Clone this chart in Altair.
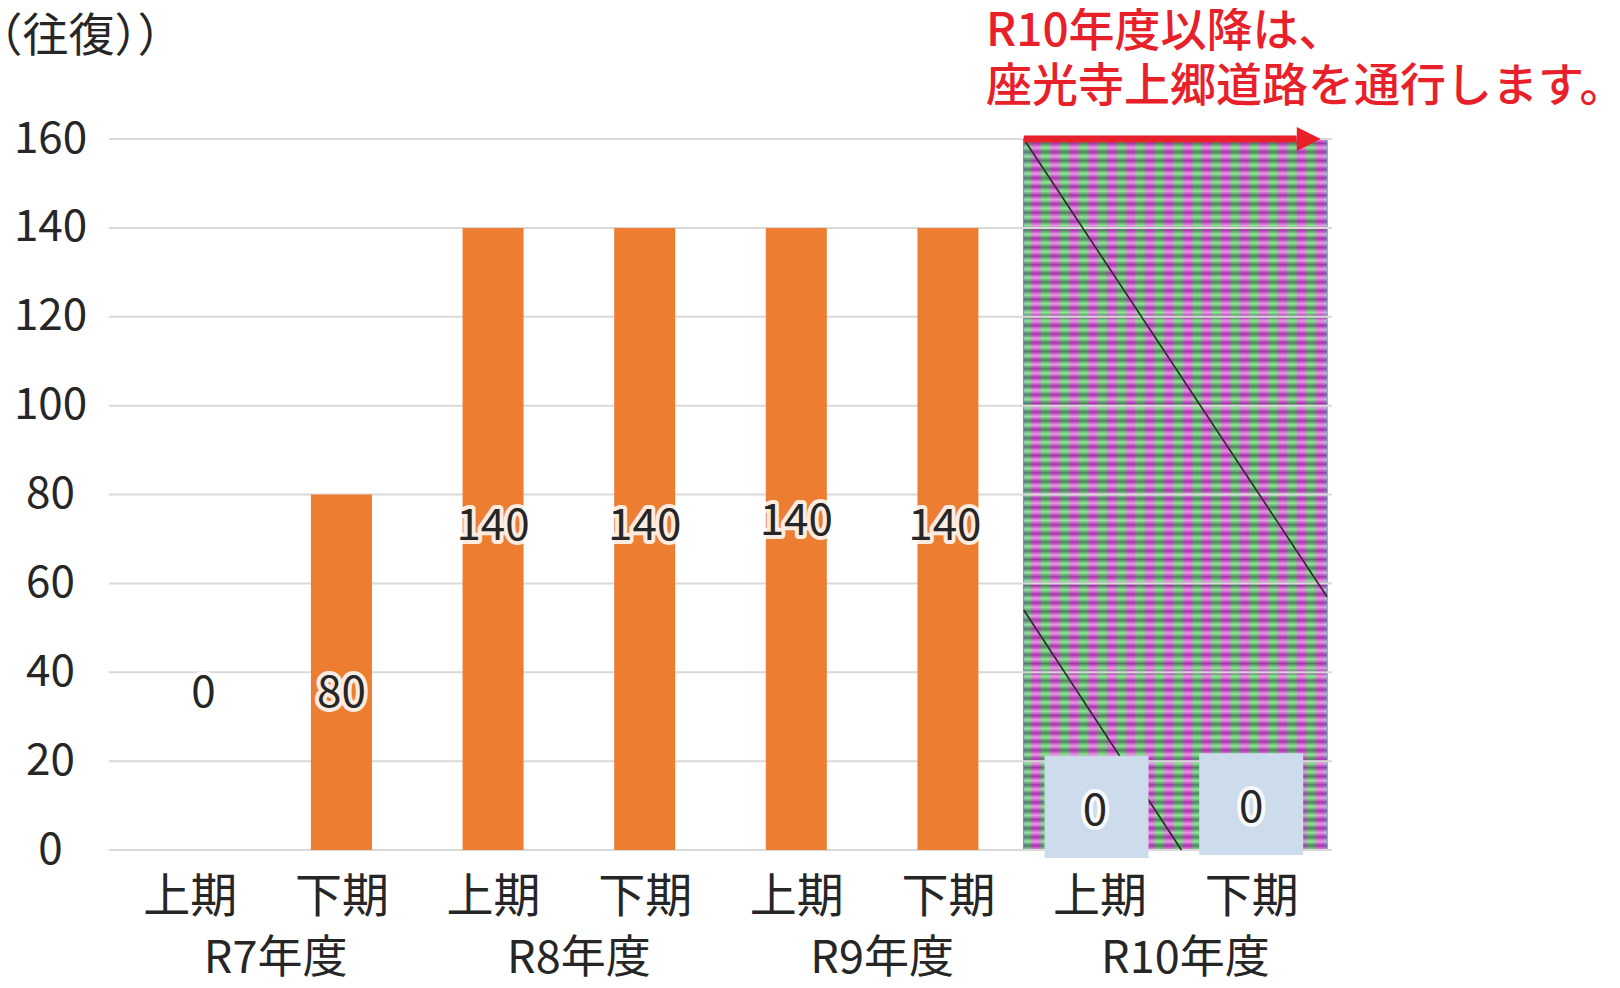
import altair as alt
import pandas as pd

# ---------------- data ----------------
years = ["R7年度", "R7年度", "R8年度", "R8年度", "R9年度", "R9年度", "R10年度", "R10年度"]
periods = ["上期", "下期", "上期", "下期", "上期", "下期", "上期", "下期"]
values = [0, 80, 140, 140, 140, 140, 0, 0]
label_y = [35, 35, 72.7, 72.7, 73.8, 72.7, 8.5, 9.2]       # where the value labels sit (y units)
label_shift = [0.09, 0, 0, 0, 0, -0.02, -0.03, 0]           # label offset from bar centre (category units)
y_ticks = [0, 20, 40, 60, 80, 100, 120, 140, 160]
y_title = "（往復））"
note_lines = ["R10年度以降は、", "座光寺上郷道路を通行します。"]
after_year = "R10年度"
box_top = [21.2, 21.8]          # light-blue label boxes of R10 (y units)
box_bottom = [-1.8, -1.1]
box_shift = [-0.02, 0.0]
diag_x = [6.0, 6.0]             # diagonal seams in the hatched block (x in category units)
diag_x2 = [8.0, 7.04]
diag_y = [160, 54]
diag_y2 = [57, 0]
arrow_end = 7.8
arrow_head = 7.88

# ---------------- styling ----------------
FONT = "Noto Sans CJK JP"
TXT = "#262626"
ORANGE = "#ED7D31"
RED = "#E8202A"
W, H = 1223, 711

df = pd.DataFrame({"year": years, "period": periods, "value": values, "label_y": label_y})
df["pos"] = df.index + 0.5
df["lpos"] = df["pos"] + pd.Series(label_shift)
df["txt"] = df["value"].astype(str)

n = len(years)
start = years.index(after_year)
xscale = alt.Scale(domain=[0, n], nice=False, zero=False)
yscale = alt.Scale(domain=[0, max(y_ticks)], nice=False)

label_js = "[" + ",".join(f"'{p}'" for p in periods) + "][floor(datum.value)]"
xaxis = alt.Axis(values=list(df["pos"]), labelExpr=label_js, title=None, domain=False,
                 ticks=False, tickSize=0, grid=False, labelFont=FONT, labelFontSize=47,
                 labelColor=TXT, labelBaseline="middle", labelPadding=47, labelAngle=0)
yaxis = alt.Axis(values=y_ticks, title=y_title, domain=False, ticks=False, tickSize=0,
                 grid=False, labelFont=FONT, labelFontSize=44, labelColor=TXT,
                 labelAlign="center", labelBaseline="middle", labelPadding=59,
                 titleAngle=0, titleX=-133, titleY=-103, titleAlign="left",
                 titleBaseline="middle", titleFont=FONT, titleFontSize=46,
                 titleFontWeight="normal", titleColor=TXT)


def X(field):
    return alt.X(field, type="quantitative", scale=xscale, axis=xaxis)


def Y(field):
    return alt.Y(field, type="quantitative", scale=yscale, axis=yaxis)


# hatched block for R10
block = pd.DataFrame({"x": [float(start)], "x2": [float(n)], "y": [0], "y2": [max(y_ticks)]})
nx = 16
hstops = []
for k in range(nx):
    hstops += [alt.GradientStop(color="#3FDD4A", offset=k / nx),
               alt.GradientStop(color="#3FDD4A", offset=(k + 0.3) / nx),
               alt.GradientStop(color="#E24FDA", offset=(k + 0.5) / nx),
               alt.GradientStop(color="#E24FDA", offset=(k + 0.8) / nx)]
hstops.append(alt.GradientStop(color="#3FDD4A", offset=1))
ny = 82
vstops = []
for k in range(ny):
    vstops += [alt.GradientStop(color="#ffffff", offset=k / ny),
               alt.GradientStop(color="#5a0070", offset=(k + 0.5) / ny)]
vstops.append(alt.GradientStop(color="#ffffff", offset=1))

base_pat = alt.Chart(block).mark_rect(
    fill=alt.Gradient(gradient="linear", stops=hstops, x1=0, x2=1, y1=0, y2=0),
    stroke="#7F7FFF", strokeWidth=1.5
).encode(x=X("x"), x2="x2", y=Y("y"), y2="y2")
tex_pat = alt.Chart(block).mark_rect(
    fill=alt.Gradient(gradient="linear", stops=vstops, x1=0, x2=0, y1=0, y2=1),
    opacity=0.4
).encode(x=X("x"), x2="x2", y=Y("y"), y2="y2")

grid = alt.Chart(pd.DataFrame({"t": y_ticks})).mark_rule(color="#D9D9D9", strokeWidth=2).encode(y=Y("t"))

diag = alt.Chart(pd.DataFrame({"x": diag_x, "x2": diag_x2, "y": diag_y, "y2": diag_y2})).mark_rule(
    color="#2a2a2a", strokeWidth=1.6
).encode(x=X("x"), x2="x2", y=Y("y"), y2="y2")

bars = alt.Chart(df).mark_bar(size=61, color=ORANGE, orient="vertical").encode(
    x=X("pos"), y=Y("value"), y2=alt.datum(0))

boxes_df = df[df["year"] == after_year].copy()
boxes_df["top"] = box_top
boxes_df["bottom"] = box_bottom
boxes_df["bpos"] = boxes_df["pos"] + pd.Series(box_shift, index=boxes_df.index)
boxes = alt.Chart(boxes_df).mark_bar(size=104, color="#CCDCEC", orient="vertical").encode(
    x=X("bpos"), y=Y("top"), y2="bottom")

halo = alt.Chart(df).mark_text(font=FONT, fontSize=44, fill="white", stroke="white",
                               strokeWidth=8, strokeJoin="round", opacity=0.85,
                               baseline="middle").encode(x=X("lpos"), y=Y("label_y"), text="txt")
labels = alt.Chart(df).mark_text(font=FONT, fontSize=44, color=TXT, baseline="middle").encode(
    x=X("lpos"), y=Y("label_y"), text="txt")

ydf = df.groupby("year", sort=False)["pos"].mean().reset_index()
year_labels = alt.Chart(ydf).mark_text(font=FONT, fontSize=45, color=TXT, baseline="middle",
                                       dx=10).encode(x=X("pos"), y=alt.value(H + 109), text="year")

arrow_df = pd.DataFrame({"x": [float(start)], "x2": [arrow_end], "y": [max(y_ticks)]})
arrow_line = alt.Chart(arrow_df).mark_rule(color=RED, strokeWidth=7).encode(
    x=X("x"), x2="x2", y=Y("y"))
arrow_tip = alt.Chart(pd.DataFrame({"x": [arrow_head], "y": [max(y_ticks)]})).mark_point(
    shape="M-1,-1L1,0L-1,1Z", size=576, filled=True, color=RED, opacity=1, strokeWidth=0
).encode(x=X("x"), y=Y("y"))

note1 = alt.Chart(pd.DataFrame({"t": [note_lines[0]]})).mark_text(
    font=FONT, fontSize=46, fontWeight=500, color=RED, align="left", baseline="middle"
).encode(x=alt.value(877), y=alt.value(-107), text="t")
note2 = alt.Chart(pd.DataFrame({"t": [note_lines[1]]})).mark_text(
    font=FONT, fontSize=46, fontWeight=500, color=RED, align="left", baseline="middle"
).encode(x=alt.value(877), y=alt.value(-52), text="t")

chart = alt.layer(
    base_pat, tex_pat, grid, diag, bars, boxes, halo, labels, year_labels,
    arrow_line, arrow_tip, note1, note2
).properties(
    width=W, height=H,
    padding={"left": 101, "top": 131, "right": 274, "bottom": 130},
    autosize=alt.AutoSizeParams(type="none"),
).configure_view(stroke=None)

chart.save("out.html", embed_options={"renderer": "svg", "actions": False})
